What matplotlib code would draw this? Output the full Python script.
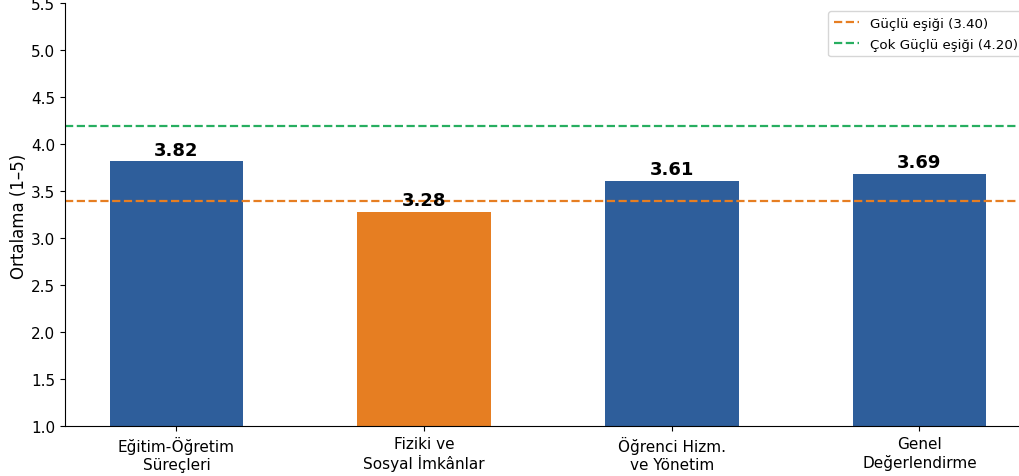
import numpy as np
import matplotlib.pyplot as plt

categories = ["Eğitim-Öğretim\nSüreçleri", "Fiziki ve\nSosyal İmkânlar",
              "Öğrenci Hizm.\nve Yönetim", "Genel\nDeğerlendirme"]
means = [3.82, 3.28, 3.61, 3.69]
strong_thr = 3.40
very_strong_thr = 4.20

blue = "#2E5E9B"
orange = "#E67E22"
green = "#27AE60"

colors = [orange if m < strong_thr else blue for m in means]

fig = plt.figure(figsize=(10.2, 4.77), dpi=100)
ax = fig.add_axes([0.0637, 0.1038, 0.947, 0.887])

x = np.arange(len(categories))
bars = ax.bar(x, means, width=0.54, color=colors)

ax.axhline(strong_thr, color=orange, ls="--", lw=1.6, label=f"Güçlü eşiği ({strong_thr:.2f})")
ax.axhline(very_strong_thr, color=green, ls="--", lw=1.6, label=f"Çok Güçlü eşiği ({very_strong_thr:.2f})")

for b, m in zip(bars, means):
    ax.text(b.get_x() + b.get_width() / 2, m + 0.03, f"{m:.2f}",
            ha="center", va="bottom", fontsize=13, fontweight="bold")

ax.set_xticks(x)
ax.set_xticklabels(categories, fontsize=11)
ax.set_xlim(-0.45, 3.45)
ax.set_ylim(1.0, 5.5)
ax.set_yticks(np.arange(1.0, 5.51, 0.5))
ax.tick_params(axis="y", labelsize=11)
ax.set_ylabel("Ortalama (1–5)", fontsize=12, labelpad=2)
ax.spines["top"].set_visible(False)
ax.spines["right"].set_visible(False)
ax.legend(loc="upper right", fontsize=9.6, labelspacing=0.62,
          borderaxespad=0.6, handlelength=1.9)

fig.savefig("out.png", dpi=100)
